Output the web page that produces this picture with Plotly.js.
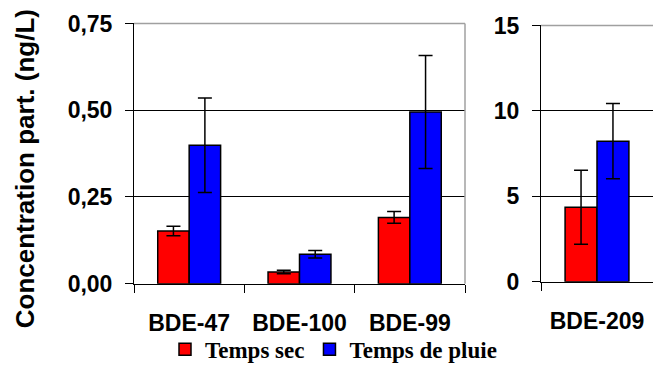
<!DOCTYPE html>
<html>
<head>
<meta charset="utf-8">
<script src="https://cdn.plot.ly/plotly-3.0.1.min.js"></script>
<style>html,body{margin:0;padding:0;background:#fff;}#chart{width:653px;height:371px;}</style>
</head>
<body>
<div id="chart"></div>
<script>
var categories = ['BDE-47', 'BDE-100', 'BDE-99'];
var secValues = [0.152, 0.034, 0.191];
var secErrors = [0.014, 0.005, 0.017];
var pluieValues = [0.399, 0.085, 0.495];
var pluieErrors = [0.136, 0.011, 0.163];

var categories2 = ['BDE-209'];
var sec2Values = [4.36];
var sec2Errors = [2.17];
var pluie2Values = [8.23];
var pluie2Errors = [2.2];

var seriesNames = ['Temps sec', 'Temps de pluie'];
var seriesColors = ['#FF0000', '#0000FF'];
var yTicks1 = [0, 0.25, 0.5, 0.75];
var yTicks2 = [0, 5, 10, 15];
var yTitle = 'Concentration part. (ng/L)';

var sansBold = {family: 'Arial, "Liberation Sans", sans-serif', size: 23, color: '#000', weight: 'bold'};

function barTrace(x, y, err, i, xa, ya, showLegend) {
  return {
    type: 'bar', x: x, y: y, name: seriesNames[i],
    xaxis: xa, yaxis: ya, showlegend: showLegend, legendgroup: 'g' + i,
    marker: {color: seriesColors[i], line: {color: '#000', width: 1.5}},
    error_y: {type: 'data', array: err, visible: true, color: '#000', thickness: 1.5, width: 7}
  };
}

var data = [
  barTrace(categories, secValues, secErrors, 0, 'x', 'y', true),
  barTrace(categories, pluieValues, pluieErrors, 1, 'x', 'y', true),
  barTrace(categories2, sec2Values, sec2Errors, 0, 'x2', 'y2', false),
  barTrace(categories2, pluie2Values, pluie2Errors, 1, 'x2', 'y2', false)
];

var W = 653, H = 371;
function px(v) { return v / W; }
function py(v) { return (H - v) / H; }

var xCommon = {
  type: 'category', showline: true, linecolor: '#000', linewidth: 1,
  ticks: 'outside', tickson: 'boundaries', ticklen: 8, tickcolor: '#000', tickwidth: 1,
  showgrid: false, zeroline: false, tickfont: sansBold, ticklabelstandoff: 19, fixedrange: true
};
var yCommon = {
  showline: true, linecolor: '#000', linewidth: 1,
  ticks: 'outside', ticklen: 8, tickcolor: '#000', tickwidth: 1,
  showgrid: true, gridcolor: '#000', gridwidth: 1, zeroline: false,
  tickfont: sansBold, ticklabelstandoff: 8, fixedrange: true
};

var layout = {
  width: W, height: H,
  margin: {l: 0, r: 0, t: 0, b: 0},
  paper_bgcolor: '#fff', plot_bgcolor: '#fff',
  separators: ', ',
  barmode: 'group', bargap: 0.43, bargroupgap: 0,
  showlegend: true,
  legend: {
    orientation: 'h', x: px(165), xanchor: 'left', y: py(357), yanchor: 'middle',
    font: {family: '"Times New Roman", "Liberation Serif", serif', size: 23, color: '#000', weight: 'bold'},
    bgcolor: 'rgba(0,0,0,0)', borderwidth: 0, traceorder: 'normal'
  },
  xaxis: Object.assign({}, xCommon, {domain: [px(134), px(465)], anchor: 'y'}),
  yaxis: Object.assign({}, yCommon, {domain: [py(290), py(24)], anchor: 'x', range: [0, 0.75],
    tickvals: yTicks1, tickformat: '.2f'}),
  xaxis2: Object.assign({}, xCommon, {domain: [px(541), 1], anchor: 'y2'}),
  yaxis2: Object.assign({}, yCommon, {domain: [py(288), py(26)], anchor: 'x2', range: [0, 15],
    tickvals: yTicks2, tickformat: 'd'}),
  shapes: [
    {type: 'line', xref: 'x domain', yref: 'y domain', x0: 0, x1: 1, y0: 1, y1: 1, line: {color: '#a0a0a0', width: 1.5}},
    {type: 'line', xref: 'x domain', yref: 'y domain', x0: 1, x1: 1, y0: 0, y1: 1, line: {color: '#a0a0a0', width: 1.5}},
    {type: 'line', xref: 'x2 domain', yref: 'y2 domain', x0: 0, x1: 1, y0: 1, y1: 1, line: {color: '#a0a0a0', width: 1.5}}
  ],
  annotations: [
    {text: yTitle, xref: 'paper', yref: 'paper', x: px(25), y: py(173), textangle: -90,
     showarrow: false, xanchor: 'center', yanchor: 'middle',
     font: {family: 'Arial, "Liberation Sans", sans-serif', size: 26, color: '#000', weight: 'bold'}}
  ]
};

Plotly.newPlot('chart', data, layout, {staticPlot: true, displayModeBar: false});
</script>
</body>
</html>
